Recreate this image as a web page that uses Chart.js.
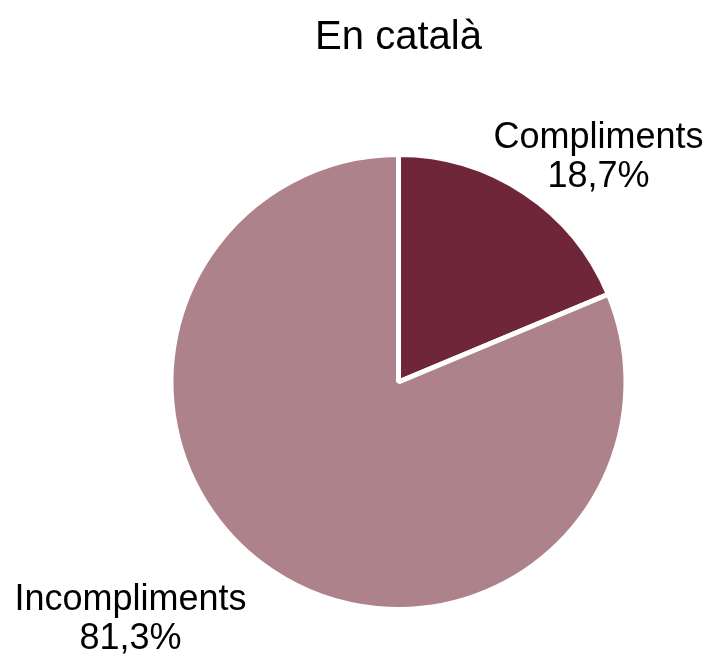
<!DOCTYPE html>
<html>
<head>
<meta charset="utf-8">
<script src="https://cdn.jsdelivr.net/npm/chart.js@4/dist/chart.umd.min.js"></script>
<style>
  html, body { margin: 0; padding: 0; background: #fff; }
  #wrap { width: 714px; height: 657px; }
</style>
</head>
<body>
<div id="wrap"><canvas id="myChart"></canvas></div>
<script>
let labels1 = ['Compliments', 'Incompliments'];
let data1 = [18.7, 81.3];
let colors1 = ['#6F2638', '#AD828A'];
let pctText = ['18,7%', '81,3%'];

// label offsets from the pie centre (first line baseline)
let labelOffsets = [[200, -234], [-268, 228]];

let sliceLabels = {
  id: 'sliceLabels',
  afterDraw(chart) {
    let ctx = chart.ctx;
    let arcs = chart.getDatasetMeta(0).data;
    ctx.save();
    ctx.font = '36px "Liberation Sans", Arial, sans-serif';
    ctx.fillStyle = '#000';
    ctx.textAlign = 'center';
    ctx.textBaseline = 'alphabetic';
    arcs.forEach((arc, i) => {
      let x = arc.x + labelOffsets[i][0];
      let y = arc.y + labelOffsets[i][1];
      ctx.fillText(labels1[i], x, y);
      ctx.fillText(pctText[i], x, y + 39);
    });
    ctx.restore();
  }
};

let myChart1 = document.getElementById('myChart').getContext('2d');

let Chart1 = new Chart(myChart1, {
  type: 'pie',
  data: {
    labels: labels1,
    datasets: [{
      data: data1,
      backgroundColor: colors1,
      borderColor: '#fff',
      borderWidth: 5
    }]
  },
  options: {
    responsive: true,
    maintainAspectRatio: false,
    animation: false,
    layout: { padding: { left: 168, right: 85, top: 0, bottom: 45 } },
    plugins: {
      legend: { display: false },
      tooltip: { enabled: false },
      title: {
        display: true,
        text: 'En català',
        color: '#000',
        font: { size: 40, family: '"Liberation Sans", Arial, sans-serif', weight: 'normal' },
        padding: { top: 14, bottom: 90 }
      }
    }
  },
  plugins: [sliceLabels]
});
</script>
</body>
</html>
